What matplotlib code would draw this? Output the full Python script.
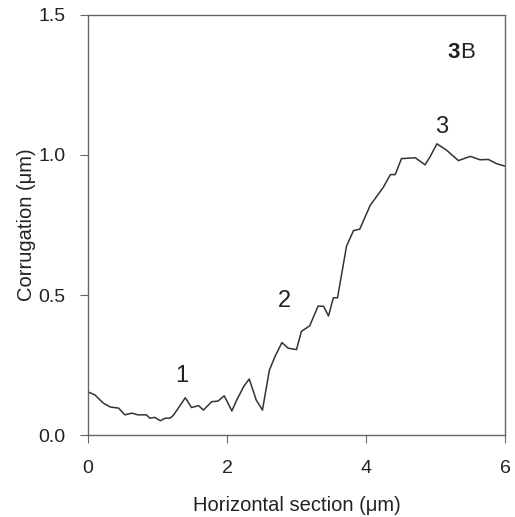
import matplotlib
matplotlib.use('Agg')
import matplotlib.pyplot as plt

plt.rcParams['font.family'] = ['Liberation Sans', 'DejaVu Sans']

# Profile (x in um, corrugation in um)
x_um = [0.00, 0.10, 0.22, 0.32, 0.44, 0.53, 0.63, 0.72, 0.84, 0.89, 0.96, 1.04,
        1.11, 1.18, 1.23, 1.31, 1.40, 1.49, 1.59, 1.66, 1.78, 1.87, 1.96, 2.07,
        2.14, 2.24, 2.32, 2.42, 2.51, 2.61, 2.69, 2.79, 2.88, 3.00, 3.07, 3.19,
        3.31, 3.39, 3.46, 3.53, 3.59, 3.72, 3.82, 3.91, 4.06, 4.25, 4.35, 4.42,
        4.51, 4.63, 4.71, 4.85, 4.92, 5.02, 5.16, 5.33, 5.50, 5.64, 5.76, 5.88,
        6.00]
corr_um = [0.154, 0.143, 0.114, 0.100, 0.096, 0.072, 0.078, 0.072, 0.072, 0.060,
           0.063, 0.051, 0.060, 0.060, 0.071, 0.100, 0.133, 0.098, 0.105, 0.089,
           0.119, 0.121, 0.140, 0.086, 0.125, 0.173, 0.200, 0.125, 0.089, 0.232,
           0.280, 0.330, 0.310, 0.305, 0.370, 0.390, 0.460, 0.460, 0.425, 0.490,
           0.490, 0.675, 0.730, 0.735, 0.820, 0.885, 0.930, 0.930, 0.987, 0.989,
           0.990, 0.965, 0.993, 1.040, 1.017, 0.980, 0.995, 0.983, 0.984, 0.969,
           0.960]

peak_labels = ['1', '2', '3']
peak_x = [1.35, 2.83, 5.09]
peak_y = [0.212, 0.48, 1.10]

fig = plt.figure(figsize=(5.15, 5.17), dpi=100)
ax = fig.add_axes([0.1709, 0.1586, 0.8097, 0.8124])
ax.plot(x_um, corr_um, color='#333333', linewidth=1.1)

for lab, px, py in zip(peak_labels, peak_x, peak_y):
    ax.text(px, py, lab, fontsize=17, ha='center', va='center', color='#222222')

# panel tag: bold "3" + regular "B"
ax.text(5.35, 1.365, '3', fontsize=16, fontweight='bold', ha='right', va='center', color='#222222')
ax.text(5.35, 1.365, 'B', fontsize=16, ha='left', va='center', color='#222222')

ax.set_xlim(0, 6)
ax.set_ylim(0, 1.5)
ax.set_xticks([0, 2, 4, 6])
ax.set_yticks([0.0, 0.5, 1.0, 1.5])
ax.set_yticklabels(['0.0', '0.5', '1.0', '1.5'])
ax.tick_params(direction='out', length=6, width=0.8, color='#666666',
               labelsize=14, labelcolor='#222222')
ax.tick_params(axis='x', pad=12)
ax.tick_params(axis='y', pad=10)
ax.set_xlabel('Horizontal section (\u03bcm)', fontsize=14.5, color='#222222', labelpad=14)
ax.set_ylabel('Corrugation (\u03bcm)', fontsize=14.5, color='#222222', labelpad=2)
for spine in ['top', 'bottom', 'left', 'right']:
    ax.spines[spine].set_color('#666666')
    ax.spines[spine].set_linewidth(1.0)

plt.savefig('out.png', dpi=100, facecolor='w')
